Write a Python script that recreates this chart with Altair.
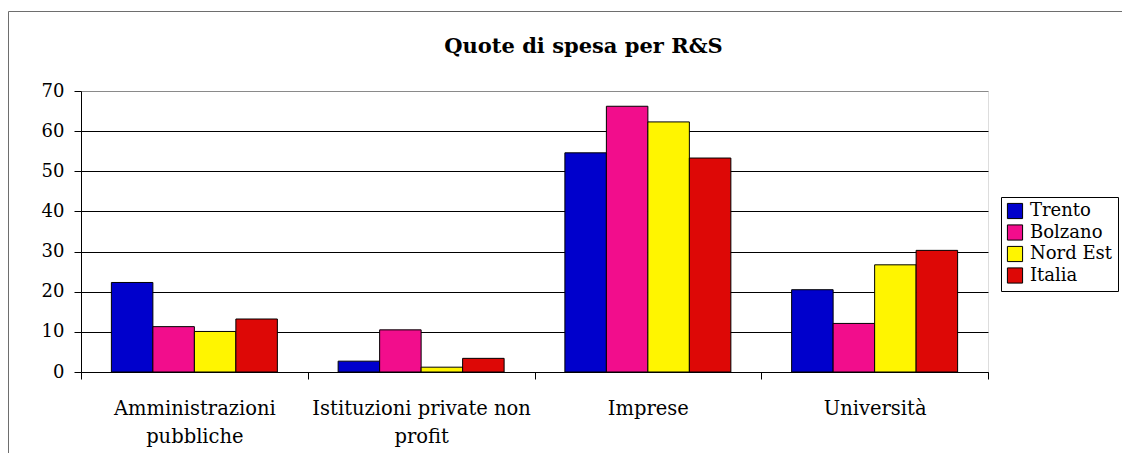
import altair as alt
import pandas as pd

categories = ["Amministrazioni pubbliche", "Istituzioni private non profit", "Imprese", "Università"]
category_lines = {
    "Amministrazioni pubbliche": ["Amministrazioni", "pubbliche"],
    "Istituzioni private non profit": ["Istituzioni private non", "profit"],
}
series = ["Trento", "Bolzano", "Nord Est", "Italia"]
trento = [22.3, 2.7, 54.6, 20.5]
bolzano = [11.3, 10.5, 66.2, 12.1]
nord_est = [10.1, 1.2, 62.3, 26.7]
italia = [13.2, 3.4, 53.3, 30.3]
colors = ["#0000CC", "#F20D8C", "#FFF500", "#DD0806"]
y_ticks = [0, 10, 20, 30, 40, 50, 60, 70]
title_text = "Quote di spesa per R&S"

rows = []
for s, vals in zip(series, [trento, bolzano, nord_est, italia]):
    for c, v in zip(categories, vals):
        rows.append({"Settore": c, "Area": s, "Quota": v})
df = pd.DataFrame(rows)

FONT = "DejaVu Serif"
W, H = 907, 281

expr_parts = []
for k, lines in category_lines.items():
    arr = "[" + ", ".join("'" + l + "'" for l in lines) + "]"
    expr_parts.append(f"datum.label == '{k}' ? {arr} : ")
label_expr = "".join(expr_parts) + "datum.label"

bars = alt.Chart(df).mark_bar(stroke="black", strokeWidth=1).encode(
    x=alt.X("Settore:N", sort=categories, title=None,
            scale=alt.Scale(paddingInner=0, paddingOuter=0),
            axis=alt.Axis(labelAngle=0, labelFont=FONT, labelFontSize=19.5, labelColor="black",
                          labelExpr=label_expr, labelLineHeight=28, labelPadding=20,
                          labelBaseline="top", labelLimit=400,
                          domainColor="black", tickColor="black", tickSize=7,
                          tickBand="extent", grid=False)),
    xOffset=alt.XOffset("Area:N", sort=series,
                        scale=alt.Scale(paddingInner=0, paddingOuter=0.732)),
    y=alt.Y("Quota:Q", title=None,
            scale=alt.Scale(domain=[0, 70], nice=False),
            axis=alt.Axis(values=y_ticks, labelFont=FONT, labelFontSize=18, labelColor="black",
                          labelPadding=10, tickSize=7, tickColor="black", domainColor="black",
                          gridColor={"condition": {"test": "datum.value == 70", "value": "#8a8a8a"},
                                     "value": "black"},
                          gridOpacity=1, gridWidth=1)),
    color=alt.Color("Area:N", sort=series,
                    scale=alt.Scale(domain=series, range=colors),
                    legend=alt.Legend(title=None, orient="none", legendX=920, legendY=106,
                                      labelFont=FONT, labelFontSize=18, labelColor="black",
                                      symbolType="square", symbolSize=230,
                                      symbolStrokeColor="black", symbolStrokeWidth=1,
                                      symbolOpacity=1,
                                      strokeColor="black", fillColor="white",
                                      padding=5, rowPadding=1.5, labelOffset=6,
                                      cornerRadius=0)),
)

border = alt.Chart(alt.Data(values=[{"b": 1}])).mark_rect(
    fill=None, stroke="#6e6e6e", strokeWidth=1
).encode(
    x=alt.value(-72.5), x2=alt.value(1100), y=alt.value(-79.5), y2=alt.value(420)
)

title = alt.Chart(alt.Data(values=[{"t": title_text}])).mark_text(
    font=FONT, fontSize=21, fontWeight="bold", color="black", align="center", baseline="alphabetic"
).encode(
    x=alt.value(502.5), y=alt.value(-38), text="t:N"
)

chart = alt.layer(border, bars, title).properties(
    width=W, height=H,
    autosize=alt.AutoSizeParams(type="none"),
    padding={"left": 73, "top": 83, "right": 134, "bottom": 81},
).configure_view(stroke="#8a8a8a", strokeWidth=1).configure(background="white")

chart.save("out.html", embed_options={"renderer": "svg", "actions": False})
